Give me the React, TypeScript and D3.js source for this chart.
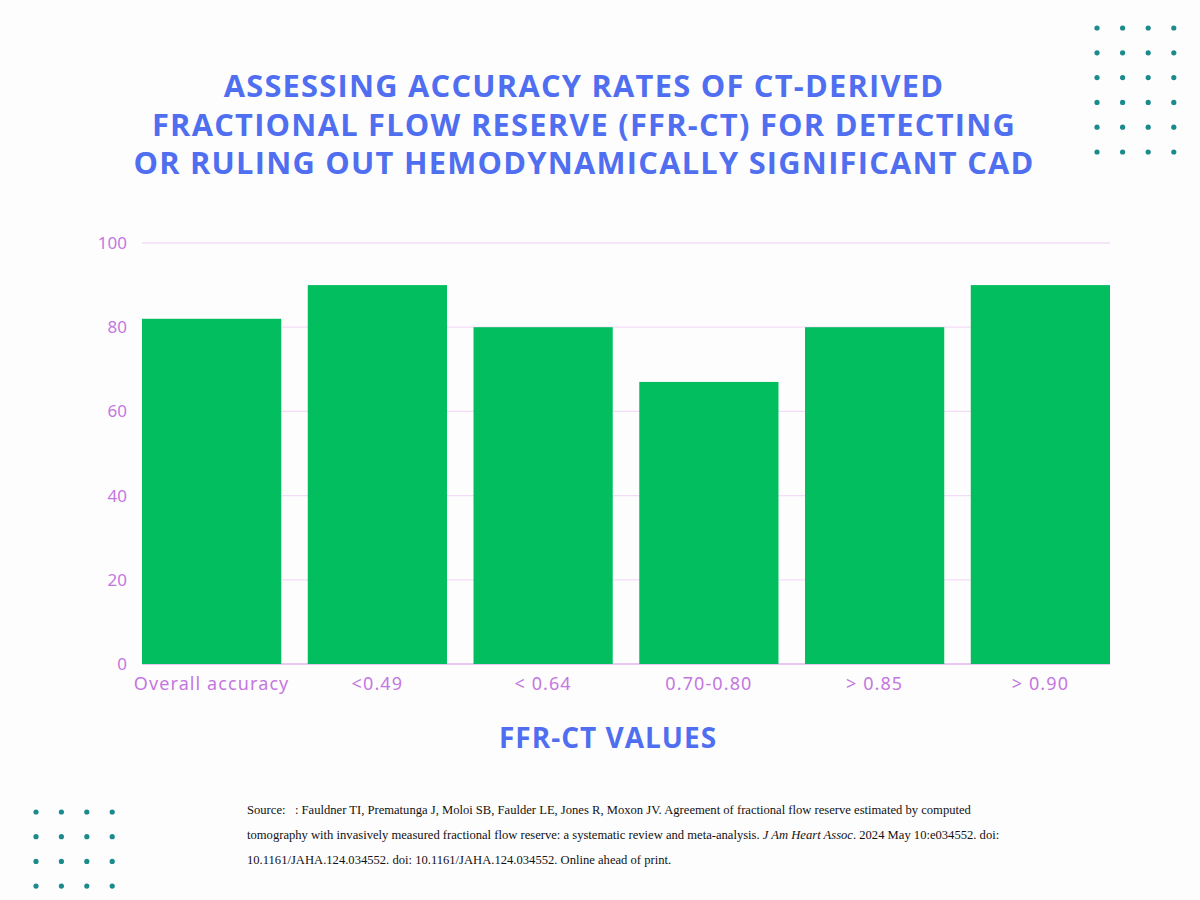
import React from "react";
import * as d3 from "d3";

const categories = ["Overall accuracy", "<0.49", "< 0.64", "0.70-0.80", "> 0.85", "> 0.90"];
const values = [82, 90, 80, 67, 80, 90];
const yTicks = [0, 20, 40, 60, 80, 100];
const titleLines = [
  "ASSESSING ACCURACY RATES OF CT-DERIVED",
  "FRACTIONAL FLOW RESERVE (FFR-CT) FOR DETECTING",
  "OR RULING OUT HEMODYNAMICALLY SIGNIFICANT CAD",
];
const xTitle = "FFR-CT VALUES";

const W = 1200;
const H = 900;
const plot = { left: 142, right: 1110, top: 243, bottom: 664 };

const BLUE = "#4f6ff0";
const PURPLE = "#c477e0";
const GREEN = "#02be5f";
const TEAL = "#1b8a8c";

export default function App() {
  const x = d3.scaleBand<string>().domain(categories).range([plot.left, plot.right]).paddingInner(0.16).paddingOuter(0);
  const y = d3.scaleLinear().domain([0, 100]).range([plot.bottom, plot.top]);

  const dotsTR = d3.cross(d3.range(4), d3.range(6));
  const dotsBL = d3.cross(d3.range(4), d3.range(4));

  return (
    <svg width={W} height={H} style={{ position: "absolute", left: 0, top: 0, display: "block" }}>
      <rect x={0} y={0} width={W} height={H} fill="#fefdfe" />
      {dotsTR.map(([c, r]) => (
        <circle key={`tr${c}-${r}`} cx={1097 + c * 25.6} cy={28 + r * 24.8} r={2.6} fill={TEAL} />
      ))}
      {dotsBL.map(([c, r]) => (
        <circle key={`bl${c}-${r}`} cx={36 + c * 25.4} cy={812 + r * 24.7} r={2.6} fill={TEAL} />
      ))}
      <g fontFamily="'Open Sans', sans-serif" fontWeight={700} fontSize={30.8} fill={BLUE} textAnchor="middle" letterSpacing={1.25}>
        {titleLines.map((t, i) => (
          <text key={i} x={584} y={97 + i * 38.5}>{t}</text>
        ))}
      </g>
      <g>
        {yTicks.map((t) => (
          <g key={t}>
            <line x1={plot.left} x2={plot.right} y1={y(t)} y2={y(t)} stroke={t === 0 ? "#e2b6ee" : "#f3dcf7"} strokeWidth={1.3} />
            <text x={127} y={y(t) + 6} textAnchor="end" fontFamily="'Noto Sans', sans-serif" fontSize={17} fill={PURPLE}>{t}</text>
          </g>
        ))}
      </g>
      {categories.map((c, i) => (
        <rect key={c} x={x(c)} y={y(values[i])} width={x.bandwidth()} height={y(0) - y(values[i])} fill={GREEN} />
      ))}
      {categories.map((c) => (
        <text key={c} x={(x(c) as number) + x.bandwidth() / 2} y={690} textAnchor="middle" fontFamily="'Noto Sans', sans-serif" fontSize={18} letterSpacing={1.1} fill={PURPLE}>{c}</text>
      ))}
      <text x={608} y={748} textAnchor="middle" fontFamily="'Open Sans', sans-serif" fontWeight={700} fontSize={28} fill={BLUE} letterSpacing={1}>{xTitle}</text>
      <g fontFamily="'Liberation Serif', 'Times New Roman', serif" fontSize={12.6} fill="#111">
        <text x={247} y={814}>{"Source:\u00a0\u00a0 : Fauldner TI, Prematunga J, Moloi SB, Faulder LE, Jones R, Moxon JV. Agreement of fractional flow reserve estimated by computed"}</text>
        <text x={247} y={839}>tomography with invasively measured fractional flow reserve: a systematic review and meta-analysis. <tspan fontStyle="italic">J Am Heart Assoc</tspan>. 2024 May 10:e034552. doi:</text>
        <text x={247} y={864}>10.1161/JAHA.124.034552. doi: 10.1161/JAHA.124.034552. Online ahead of print.</text>
      </g>
    </svg>
  );
}
